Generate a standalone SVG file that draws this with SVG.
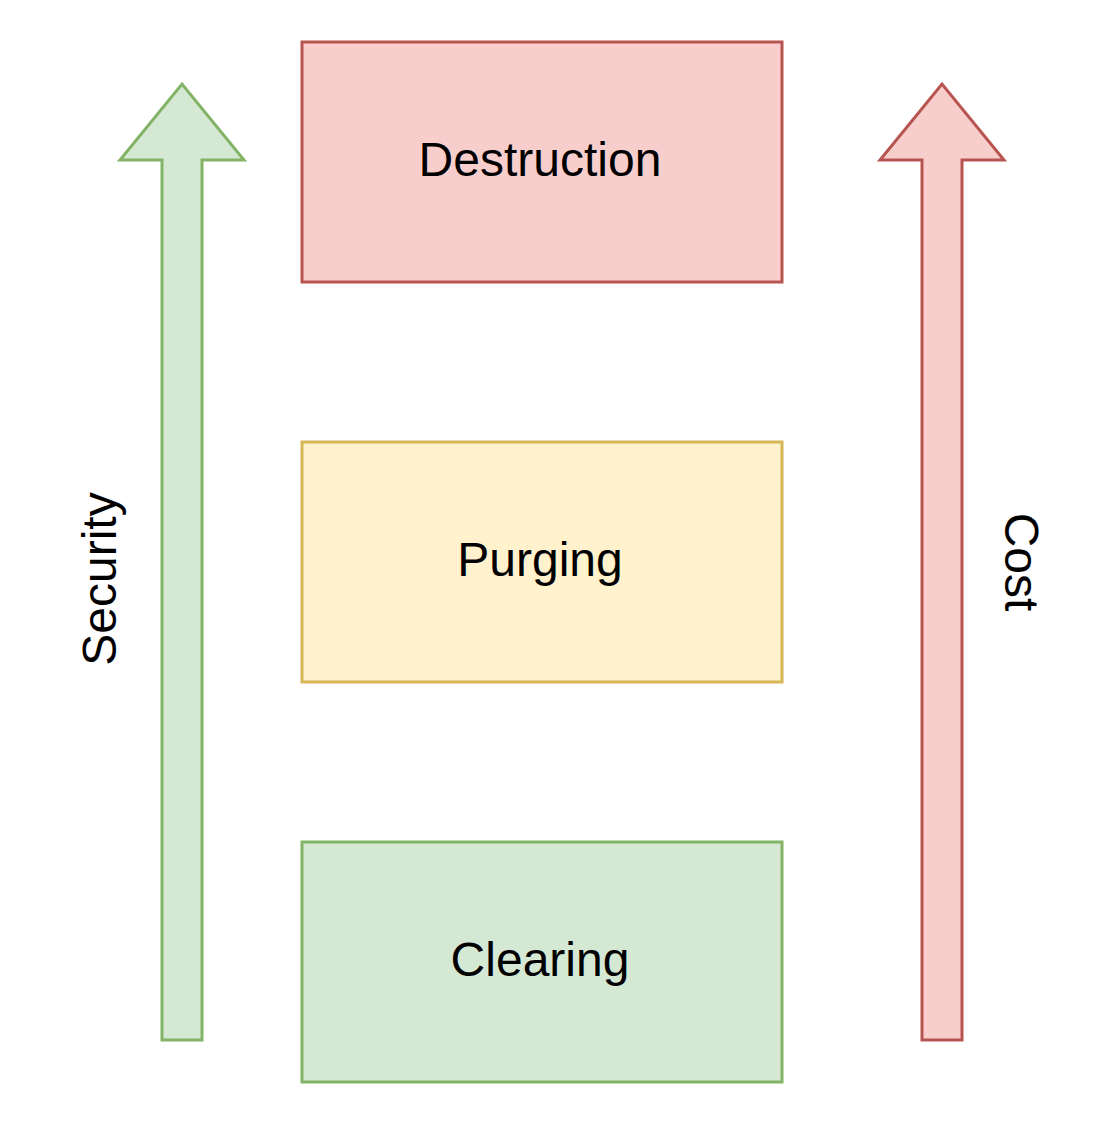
<svg xmlns="http://www.w3.org/2000/svg" width="1120" height="1124" viewBox="0 0 1120 1124">
<style>
.lbl{font-family:"Liberation Sans",Arial,sans-serif;font-size:48px;fill:#000;text-anchor:middle}
.red{fill:#f8cecc;stroke:#b85450;stroke-width:3}
.yel{fill:#fff2cc;stroke:#d6b656;stroke-width:3}
.grn{fill:#d5e8d4;stroke:#82b366;stroke-width:3}
</style>
<rect width="1120" height="1124" fill="#fff"/>
<g id="connectors">
<g id="security-arrow">
<path class="grn" d="M162,1040 L162,160 L120,160 L182,84 L244,160 L202,160 L202,1040 Z"/>
<text class="lbl" transform="translate(116,579) rotate(-90)">Security</text>
</g>
<g id="cost-arrow">
<path class="red" d="M922,1040 L922,160 L880,160 L942,84 L1004,160 L962,160 L962,1040 Z"/>
<text class="lbl" transform="translate(1005,562) rotate(90)">Cost</text>
</g>
</g>
<g id="destruction">
<rect class="red" x="302" y="42" width="480" height="240"/>
<text class="lbl" x="540" y="176">Destruction</text>
</g>
<g id="purging">
<rect class="yel" x="302" y="442" width="480" height="240"/>
<text class="lbl" x="540" y="576">Purging</text>
</g>
<g id="clearing">
<rect class="grn" x="302" y="842" width="480" height="240"/>
<text class="lbl" x="540" y="976">Clearing</text>
</g>
</svg>
